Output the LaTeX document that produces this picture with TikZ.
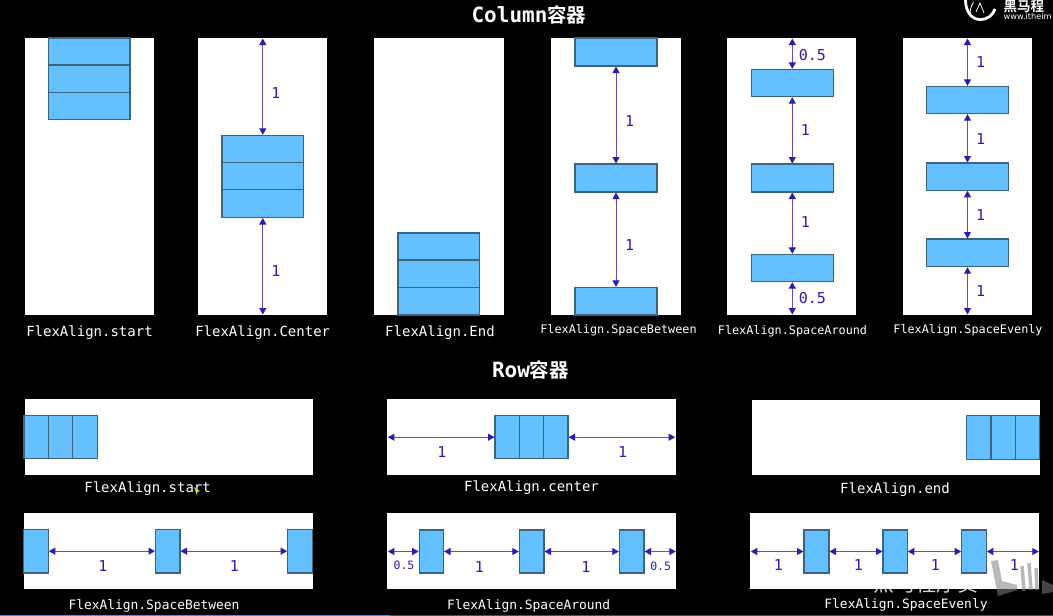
\documentclass[tikz,border=0pt]{standalone}
\usepackage{fontspec}
\usetikzlibrary{arrows.meta}
\setmonofont{DejaVu Sans Mono}
\setsansfont{DejaVu Sans}
\newfontfamily\cjkb[BoldFont={Noto Sans CJK SC Bold}]{Noto Sans CJK SC}
\definecolor{boxblue}{HTML}{64BFFF}
\definecolor{boxline}{HTML}{3C6480}
\definecolor{dimblue}{HTML}{2A1DB0}
\definecolor{dimline}{HTML}{5A55B8}
\definecolor{cursoryellow}{HTML}{C8D23C}
\definecolor{barcyan}{HTML}{18A8D8}
\tikzset{
  panel/.style={fill=white,draw=none,inner sep=0,outer sep=0},
  bluebox/.style={fill=boxblue,draw=boxline,line width=1.1pt,inner sep=0,outer sep=0},
  dim/.style={draw=dimline,line width=1pt,{Triangle[length=6.5pt,width=7pt,color=dimblue]}-{Triangle[length=6.5pt,width=7pt,color=dimblue]},shorten <=0.5pt,shorten >=0.5pt},
  dimlabel/.style={text=dimblue,font=\ttfamily\fontsize{15}{15}\selectfont,inner sep=0},
  smalldim/.style={text=dimblue,font=\ttfamily\fontsize{11.5}{12}\selectfont,inner sep=0},
  caplarge/.style={text=white,font=\ttfamily\fontsize{14}{14}\selectfont,inner sep=0},
  capmid/.style={text=white,font=\ttfamily\fontsize{12.9}{14}\selectfont,inner sep=0},
  capsmall/.style={text=white,font=\ttfamily\fontsize{11.8}{14}\selectfont,inner sep=0},
  titlenode/.style={text=white,inner sep=0},
  wmstroke/.style={draw=gray,opacity=0.55,line width=6pt},
}
\newcommand\rectnode[6]{\node[#1,minimum width={(#5-#3)*1pt},minimum height={(#6-#4)*1pt}] (#2) at ({(#3+#5)/2},{(#4+#6)/2}) {};}
\newcommand\titletext[2]{{\ttfamily\bfseries\fontsize{21}{22}\selectfont #1}{\cjkb\bfseries\fontsize{19.5}{22}\selectfont #2}}
\begin{document}
\begin{tikzpicture}[x=1pt,y=-1pt]
\useasboundingbox[fill=black] (0,0) rectangle (1053,616);
% titles
\node[titlenode] (t1) at (529,15) {\titletext{Column}{容器}};
\node[titlenode] (t2) at (530.5,370) {\titletext{Row}{容器}};
% logo
\begin{scope}
\clip (0,0) rectangle (1053,616);
\draw[white,line width=2.8pt] (965.5,0) .. controls (965.5,12) and (972,19.5) .. (980,19.5) .. controls (988,19.5) and (993,15) .. (995,9);
\draw[white,line width=0.8pt] (970,13) .. controls (970.5,8) and (971.5,5) .. (973.5,2);
\draw[white,line width=0.8pt] (976,12) -- (980,3) -- (984,13);
\end{scope}
\node[text=white,inner sep=0,anchor=west,font=\cjkb\bfseries\fontsize{13.5}{14}\selectfont] (logoa) at (1003.5,6.5) {黑马程};
\node[text=white,inner sep=0,anchor=west,font=\sffamily\fontsize{8.2}{10}\selectfont] (logob) at (1003.5,16.5) {www.itheim};
% watermark under the panels
\node[text=white,opacity=0.85,inner sep=0,font=\cjkb\fontsize{21}{22}\selectfont] (wma) at (926,584) {黑马程序员};
% ---------- column panels
\rectnode{panel}{p1}{25}{38}{154}{315}
\rectnode{panel}{p2}{198.4}{38}{327}{315}
\rectnode{panel}{p3}{374}{38}{503.7}{315}
\rectnode{panel}{p4}{551}{38}{680.7}{315}
\rectnode{panel}{p5}{727}{38}{856}{315}
\rectnode{panel}{p6}{903}{38}{1032.3}{315}
% start
\rectnode{bluebox}{a1}{48.3}{38}{130}{65}
\rectnode{bluebox}{a2}{48.3}{65}{130}{92.3}
\rectnode{bluebox}{a3}{48.3}{92.3}{130}{119.5}
% center
\rectnode{bluebox}{b1}{222}{135.3}{303.6}{162.3}
\rectnode{bluebox}{b2}{222}{162.3}{303.6}{189.5}
\rectnode{bluebox}{b3}{222}{189.5}{303.6}{217.5}
\draw[dim] (b1.north |- p2.north) -- (b1.north);
\draw[dim] (b3.south) -- (b3.south |- p2.south);
\node[dimlabel] (l1) at (276,93) {1};
\node[dimlabel] (l2) at (276,271) {1};
% end
\rectnode{bluebox}{c1}{398}{233}{479.7}{260}
\rectnode{bluebox}{c2}{398}{260}{479.7}{287.3}
\rectnode{bluebox}{c3}{398}{287.3}{479.7}{315}
% between
\rectnode{bluebox}{d1}{575}{38}{657}{66}
\rectnode{bluebox}{d2}{575}{164}{657}{192}
\rectnode{bluebox}{d3}{575}{287.3}{657}{315}
\draw[dim] (d1.south) -- (d2.north);
\draw[dim] (d2.south) -- (d3.north);
\node[dimlabel] (l3) at (629.7,120.7) {1};
\node[dimlabel] (l4) at (629.7,245) {1};
% around
\rectnode{bluebox}{e1}{751.3}{69.3}{833.3}{96.7}
\rectnode{bluebox}{e2}{751.3}{164}{833.3}{192}
\rectnode{bluebox}{e3}{751.3}{254.3}{833.3}{281.7}
\draw[dim] (e1.north |- p5.north) -- (e1.north);
\draw[dim] (e1.south) -- (e2.north);
\draw[dim] (e2.south) -- (e3.north);
\draw[dim] (e3.south) -- (e3.south |- p5.south);
\node[dimlabel] (l5) at (812.3,55) {0.5};
\node[dimlabel] (l6) at (805.3,130) {1};
\node[dimlabel] (l7) at (805.3,222) {1};
\node[dimlabel] (l8) at (812.3,297.7) {0.5};
% evenly
\rectnode{bluebox}{f1}{926.3}{86.3}{1008.7}{113.7}
\rectnode{bluebox}{f2}{926.3}{163}{1008.7}{190.3}
\rectnode{bluebox}{f3}{926.3}{239}{1008.7}{266.7}
\draw[dim] (f1.north |- p6.north) -- (f1.north);
\draw[dim] (f1.south) -- (f2.north);
\draw[dim] (f2.south) -- (f3.north);
\draw[dim] (f3.south) -- (f3.south |- p6.south);
\node[dimlabel] (l9) at (980.7,62) {1};
\node[dimlabel] (l10) at (980.7,138.7) {1};
\node[dimlabel] (l11) at (980.7,214.7) {1};
\node[dimlabel] (l12) at (980.7,291) {1};
% column captions
\node[caplarge] (c1t) at (89.5,333) {FlexAlign.start};
\node[caplarge] (c2t) at (262.7,333) {FlexAlign.Center};
\node[caplarge] (c3t) at (440,333) {FlexAlign.End};
\node[capsmall] (c4t) at (618.5,330.5) {FlexAlign.SpaceBetween};
\node[capsmall] (c5t) at (792.5,331) {FlexAlign.SpaceAround};
\node[capsmall] (c6t) at (968,330.5) {FlexAlign.SpaceEvenly};
% ---------- row panels
\rectnode{panel}{q1}{24.7}{399.3}{313}{474.7}
\rectnode{panel}{q2}{387.4}{399.3}{675.7}{474.7}
\rectnode{panel}{q3}{751.7}{400}{1039.7}{475.3}
\rectnode{panel}{q4}{24.3}{513.3}{313}{589}
\rectnode{panel}{q5}{387.4}{513.3}{676.3}{589}
\rectnode{panel}{q6}{750.3}{513.3}{1039.3}{589}
% start
\rectnode{bluebox}{g1}{24}{415.7}{48.3}{458.7}
\rectnode{bluebox}{g2}{48.3}{415.7}{72.7}{458.7}
\rectnode{bluebox}{g3}{72.7}{415.7}{97.4}{458.7}
% center
\rectnode{bluebox}{h1}{495}{415.7}{519.3}{458.7}
\rectnode{bluebox}{h2}{519.3}{415.7}{543.3}{458.7}
\rectnode{bluebox}{h3}{543.3}{415.7}{568}{458.7}
\draw[dim] (q2.west |- h1.west) -- (h1.west);
\draw[dim] (h3.east) -- (q2.east |- h3.east);
\node[dimlabel] (m1) at (442,451.7) {1};
\node[dimlabel] (m2) at (622.7,451.7) {1};
% end
\rectnode{bluebox}{i1}{966.7}{415.7}{991}{459.3}
\rectnode{bluebox}{i2}{991}{415.7}{1015.3}{459.3}
\rectnode{bluebox}{i3}{1015.3}{415.7}{1039.7}{459.3}
% between
\rectnode{bluebox}{j1}{23.7}{529.3}{48.3}{573}
\rectnode{bluebox}{j2}{155.5}{529.3}{180}{573}
\rectnode{bluebox}{j3}{287.7}{529.3}{312.7}{573}
\draw[dim] (j1.east) -- (j2.west);
\draw[dim] (j2.east) -- (j3.west);
\node[dimlabel] (m3) at (103,566) {1};
\node[dimlabel] (m4) at (234.3,566) {1};
% around
\rectnode{bluebox}{k1}{419.2}{530}{443.5}{573}
\rectnode{bluebox}{k2}{519.3}{530}{544}{573}
\rectnode{bluebox}{k3}{619.3}{530}{644}{573}
\draw[dim] (q5.west |- k1.west) -- (k1.west);
\draw[dim] (k1.east) -- (k2.west);
\draw[dim] (k2.east) -- (k3.west);
\draw[dim] (k3.east) -- (q5.east |- k3.east);
\node[smalldim] (m5) at (404,565.7) {0.5};
\node[dimlabel] (m6) at (479.4,566.7) {1};
\node[dimlabel] (m7) at (586,566.7) {1};
\node[smalldim] (m8) at (660.7,566.7) {0.5};
% evenly
\rectnode{bluebox}{n1}{804}{530}{829}{573}
\rectnode{bluebox}{n2}{883}{530}{907.3}{573}
\rectnode{bluebox}{n3}{961.7}{530}{986.3}{573}
\draw[dim] (q6.west |- n1.west) -- (n1.west);
\draw[dim] (n1.east) -- (n2.west);
\draw[dim] (n2.east) -- (n3.west);
\draw[dim] (n3.east) -- (q6.east |- n3.east);
\node[dimlabel] (m9) at (778.3,565) {1};
\node[dimlabel] (m10) at (858.3,565) {1};
\node[dimlabel] (m11) at (935.3,565) {1};
\node[dimlabel] (m12) at (1014.3,565) {1};
% row captions
\node[caplarge] (r1t) at (147.6,489) {FlexAlign.start};
\node[caplarge] (r2t) at (531.5,488) {FlexAlign.center};
\node[caplarge] (r3t) at (895,490) {FlexAlign.end};
\node[capmid] (r4t) at (154,605.5) {FlexAlign.SpaceBetween};
\node[capmid] (r5t) at (528.7,605.5) {FlexAlign.SpaceAround};
\node[capmid] (r6t) at (906,604.5) {FlexAlign.SpaceEvenly};
% cursor
\fill[cursoryellow] (194,487) -- (200,491) -- (197.5,492) -- (197,495.5) -- cycle;
% site mark, drawn as shapes
\begin{scope}
\clip (0,0) rectangle (1053,616);
\fill[gray,opacity=0.55] (991,561) -- (998,560) -- (1002,581) -- (1017,585) -- (1017,590) -- (998,596) -- cycle;
\draw[wmstroke,line width=3.5pt] (1022,566) -- (1024,591);
\draw[wmstroke,line width=3.5pt] (1029,563) -- (1031,590);
\draw[wmstroke,line width=3.5pt] (1036,568) -- (1037,590);
\fill[gray,opacity=0.55] (1042,580) -- (1053,585) -- (1053,592) -- (1042,594) -- cycle;
\end{scope}
% bottom edge of the video
\fill[barcyan] (0,615) rectangle (390,616);
\fill[gray!60!black] (390,615) rectangle (1053,616);
\end{tikzpicture}
\end{document}
